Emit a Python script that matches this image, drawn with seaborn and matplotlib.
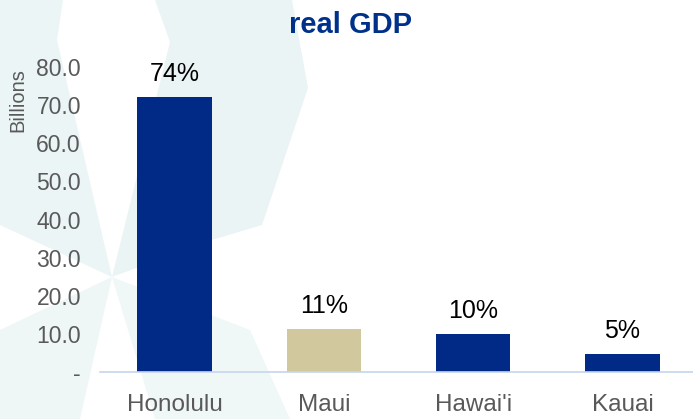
import matplotlib
matplotlib.use("Agg")
import matplotlib.pyplot as plt
from matplotlib.patches import Polygon
import seaborn as sns
import pandas as pd

# Data
counties = ["Honolulu", "Maui", "Hawai'i", "Kauai"]
gdp_billions = [72.2, 11.2, 10.0, 4.6]
bar_colors = ["#002A86", "#D1C99D", "#002A86", "#002A86"]
y_ticks = [0, 10, 20, 30, 40, 50, 60, 70, 80]

sns.set_theme(style="white")
plt.rcParams["font.family"] = ["Liberation Sans", "DejaVu Sans"]

W, H = 693, 419
fig = plt.figure(figsize=(W / 100, H / 100), dpi=100)
fig.patch.set_facecolor("white")


def to_fig(points):
    return [(x / W, 1 - y / H) for x, y in points]


# Faint star emblem in the background
cx, cy = 112, 277
rays = [
    [(cx, cy), (0, 225), (0, 0), (63, 0), (57, 40)],
    [(cx, cy), (170, 42), (155, 0), (292, 0), (308, 88), (262, 225), (212, 240)],
    [(cx, cy), (250, 330), (290, 419), (155, 419)],
    [(cx, cy), (80, 419), (0, 419), (0, 330)],
]
shades = ["#EBF5F5", "#EAF4F4", "#EFF7F7", "#EEF6F6"]
for pts, c in zip(rays, shades):
    fig.add_artist(Polygon(to_fig(pts), closed=True, transform=fig.transFigure,
                           facecolor=c, edgecolor="none", zorder=0))

ax = fig.add_axes([100 / W, 47 / H, 597 / W, 305 / H])
ax.patch.set_alpha(0)

df = pd.DataFrame({"county": counties, "gdp": gdp_billions})
sns.barplot(data=df, x="county", y="gdp", hue="county", palette=bar_colors,
            width=0.5, saturation=1, legend=False, linewidth=0, ax=ax)

ax.set_xlim(-0.5, 3.5)
ax.set_ylim(0, 80)
ax.set_yticks(y_ticks)
ax.set_yticklabels(["-" if t == 0 else f"{t:.1f}" for t in y_ticks])
ax.set_xlabel("")
ax.set_ylabel("")

for side in ["left", "right", "top"]:
    ax.spines[side].set_visible(False)
ax.spines["bottom"].set_color("#C5D6EE")
ax.spines["bottom"].set_linewidth(1.2)

ax.tick_params(axis="y", length=0, pad=13.7, labelsize=16.5, labelcolor="#595959")
ax.tick_params(axis="x", length=0, pad=16, labelsize=17.5, labelcolor="#595959")

# Share-of-total labels above bars
total = sum(gdp_billions)
for i, v in enumerate(gdp_billions):
    ax.annotate(f"{round(v / total * 100):.0f}%", (i, v), xytext=(0, 11.5),
                textcoords="offset points", ha="center", va="baseline",
                fontsize=18, color="black", annotation_clip=False)

fig.text(18 / W, 1 - 100 / H, "Billions", rotation=90, ha="center", va="center",
         fontsize=14.5, color="#595959")
fig.text(351 / W, 1 - 33.3 / H, "real GDP", ha="center", va="baseline",
         fontsize=21, fontweight="bold", color="#00318A")

fig.savefig("out.png", dpi=100)
